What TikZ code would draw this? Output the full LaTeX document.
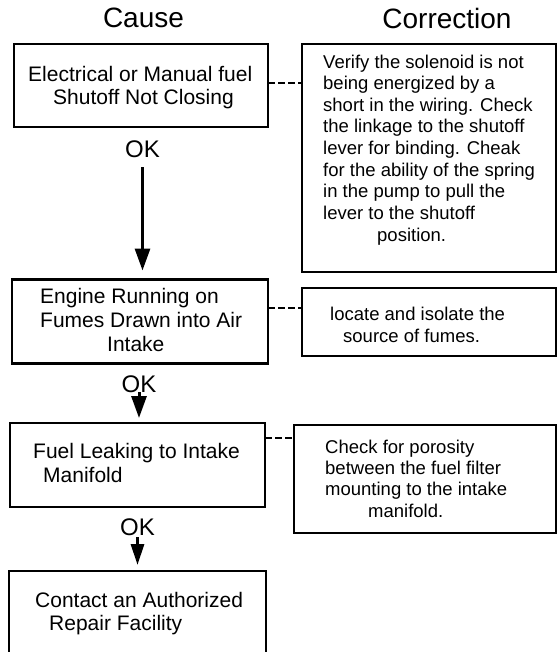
\documentclass[tikz,border=0pt]{standalone}
\usepackage{fontspec}
\setmainfont{Liberation Sans}
\usetikzlibrary{arrows.meta}
\begin{document}
\begin{tikzpicture}[x=1pt,y=-1pt,
  box/.style={draw, line width=2.2pt, inner sep=0pt, outer sep=0pt},
  title/.style={anchor=base, inner sep=0pt, font=\fontsize{28}{30}\selectfont},
  oklabel/.style={anchor=base, inner sep=0pt, font=\fontsize{24}{26}\selectfont},
  causetext/.style={anchor=base west, inner sep=0pt, align=left, font=\fontsize{21}{23}\selectfont},
  fixtext/.style={anchor=base west, inner sep=0pt, align=left, font=\fontsize{18.5}{21.6}\selectfont},
  dashline/.style={draw, line width=1.6pt, dash pattern=on 7pt off 3pt},
  arr/.style={draw, line width=3pt, -{Triangle[length=22pt,width=15pt]}}]
\useasboundingbox (0,0) rectangle (557,652);

% titles
\node[title] (tcause) at (143.5,28) {Cause};
\node[title] (tcorr) at (447,29) {Correction};

% cause boxes
\node[box, minimum width=254pt, minimum height=83pt] (b1) at (141,85.5) {};
\node[box, minimum width=256pt, minimum height=84pt] (b2) at (140,321.5) {};
\node[box, minimum width=255pt, minimum height=84pt] (b3) at (137.5,465) {};
\node[box, minimum width=257pt, minimum height=88pt] (b4) at (137.5,615) {};

% correction boxes
\node[box, minimum width=254pt, minimum height=228pt] (r1) at (429,158) {};
\node[box, minimum width=254pt, minimum height=68pt] (r2) at (429,322) {};
\node[box, minimum width=262pt, minimum height=108pt] (r3) at (425,479) {};

% cause texts (anchor = baseline of last line)
\node[causetext] (c1) at (28,105) {Electrical or Manual fuel\\\hspace*{25pt}Shutoff Not Closing};
\node[causetext, font=\fontsize{21}{24}\selectfont] (c2) at (40,351) {Engine Running on\\Fumes Drawn into Air\\\hspace*{67pt}Intake};
\node[causetext, font=\fontsize{21}{24}\selectfont] (c3) at (33,482) {Fuel Leaking to Intake\\\hspace*{10pt}Manifold};
\node[causetext] (c4) at (35,630) {Contact an Authorized\\\hspace*{14pt}Repair Facility};

% correction texts (anchor = baseline of last line)
\node[fixtext] (f1) at (323,241) {Verify the solenoid is not\\being energized by a\\short in the wiring. Check\\the linkage to the shutoff\\lever for binding. Cheak\\for the ability of the spring\\in the pump to pull the\\lever to the shutoff\\\hspace*{54pt}position.};
\node[fixtext, font=\fontsize{18.5}{22}\selectfont] (f2) at (330,342) {locate and isolate the\\\hspace*{13pt}source of fumes.};
\node[fixtext, font=\fontsize{18.5}{21.3}\selectfont] (f3) at (325,517) {Check for porosity\\between the fuel filter\\mounting to the intake\\\hspace*{43pt}manifold.};

% OK labels
\node[oklabel] (ok1) at (142.5,158) {OK};
\node[oklabel] (ok2) at (139,392) {OK};
\node[oklabel] (ok3) at (137.5,535) {OK};

% arrows
\draw[arr, shorten <=9pt, shorten >=9pt] (ok1.south) -- (ok1.south |- b2.north);
\draw[arr, shorten <=0pt, shorten >=5pt] (ok2.south) -- (ok2.south |- b3.north);
\draw[arr, shorten <=2pt, shorten >=6pt, -{Triangle[length=21pt,width=13pt]}] (ok3.south) -- (ok3.south |- b4.north);

% dashed links
\draw[dashline] (b1.east |- 0,83) -- (r1.west |- 0,83);
\draw[dashline] (b2.east |- 0,308) -- (r2.west |- 0,308);
\draw[dashline] (b3.east |- 0,438) -- (r3.west |- 0,438);
\end{tikzpicture}
\end{document}
